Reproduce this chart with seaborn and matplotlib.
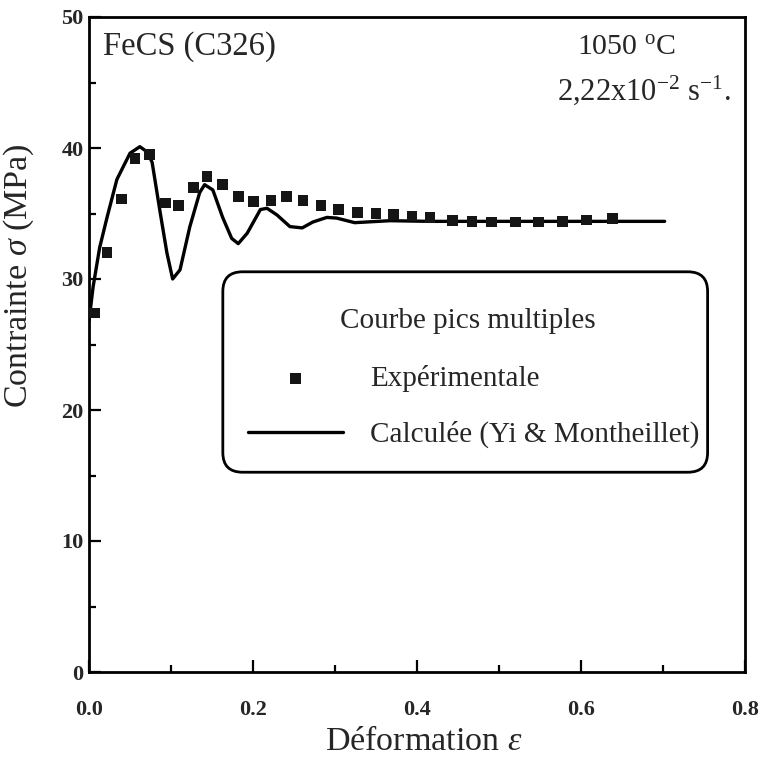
import numpy as np
import pandas as pd
import matplotlib
matplotlib.use("Agg")
import matplotlib.pyplot as plt
import seaborn as sns
from matplotlib.ticker import MultipleLocator
from matplotlib.patches import FancyBboxPatch

# experimental points (strain, stress MPa)
exp_strain = [0.007, 0.022, 0.040, 0.056, 0.074, 0.093, 0.109, 0.127, 0.144, 0.163,
              0.182, 0.201, 0.222, 0.241, 0.261, 0.283, 0.304, 0.327, 0.350, 0.371,
              0.394, 0.416, 0.443, 0.467, 0.491, 0.520, 0.548, 0.577, 0.607, 0.638]
exp_stress = [27.4, 32.0, 36.1, 39.2, 39.5, 35.8, 35.6, 37.0, 37.8, 37.2,
              36.3, 35.9, 36.0, 36.3, 36.0, 35.6, 35.3, 35.1, 35.0, 34.9,
              34.8, 34.7, 34.45, 34.4, 34.35, 34.35, 34.35, 34.4, 34.5, 34.6]

# calculated curve (Yi & Montheillet)
calc_strain = [0.0, 0.005, 0.013, 0.022, 0.034, 0.050, 0.062, 0.071, 0.077, 0.087,
               0.095, 0.102, 0.111, 0.123, 0.135, 0.141, 0.151, 0.163, 0.174, 0.182,
               0.193, 0.209, 0.217, 0.229, 0.245, 0.260, 0.273, 0.290, 0.302, 0.324,
               0.367, 0.416, 0.702]
calc_stress = [26.8, 29.4, 32.4, 34.7, 37.6, 39.6, 40.1, 39.7, 38.9, 35.0,
               32.0, 30.0, 30.7, 34.0, 36.6, 37.2, 36.8, 34.7, 33.1, 32.7,
               33.5, 35.3, 35.4, 34.9, 34.0, 33.9, 34.35, 34.7, 34.65, 34.3,
               34.45, 34.4, 34.4]

sns.set_theme(style="ticks")
plt.rcParams['font.family'] = ['Liberation Serif', 'DejaVu Serif']
plt.rcParams['mathtext.fontset'] = 'custom'
plt.rcParams['mathtext.rm'] = 'Liberation Serif'
plt.rcParams['mathtext.it'] = 'Liberation Serif:italic'
plt.rcParams['mathtext.bf'] = 'Liberation Serif:bold'

fig = plt.figure(figsize=(7.63, 7.60), dpi=100)
ax = fig.add_axes([89 / 763, 88 / 760, 656 / 763, 655 / 760])

exp_df = pd.DataFrame({"strain": exp_strain, "stress": exp_stress})
calc_df = pd.DataFrame({"strain": calc_strain, "stress": calc_stress})

sns.scatterplot(data=exp_df, x="strain", y="stress", marker="s", s=60,
                color="#151515", edgecolor="none", label="Expérimentale",
                ax=ax, zorder=3)
sns.lineplot(data=calc_df, x="strain", y="stress", color="black", lw=2.4,
             label="Calculée (Yi & Montheillet)", ax=ax, zorder=2, sort=False)

ax.set_xlim(0, 0.8)
ax.set_ylim(0, 50)
ax.xaxis.set_major_locator(MultipleLocator(0.2))
ax.xaxis.set_minor_locator(MultipleLocator(0.1))
ax.yaxis.set_major_locator(MultipleLocator(10))
ax.yaxis.set_minor_locator(MultipleLocator(5))
ax.set_xticks([0, 0.2, 0.4, 0.6, 0.8])
ax.set_xticklabels(["0.0", "0.2", "0.4", "0.6", "0.8"])

for s in ax.spines.values():
    s.set_linewidth(2.0)
    s.set_color("black")

ax.tick_params(axis="both", which="both", direction="in", top=False, right=False,
               color="black")
ax.tick_params(axis="both", which="major", length=8.5, width=1.6)
ax.tick_params(axis="both", which="minor", length=5, width=1.6)
ax.tick_params(axis="x", which="major", pad=20, labelsize=16)
ax.tick_params(axis="y", which="major", pad=4, labelsize=16)
for lab in ax.get_xticklabels() + ax.get_yticklabels():
    lab.set_fontweight("bold")

ax.set_xlabel(r"Déformation $\varepsilon$", fontsize=24.5)
ax.set_ylabel(r"Contrainte $\sigma$ (MPa)", fontsize=24.5)
ax.xaxis.set_label_coords(0.51, -0.083)
ax.yaxis.set_label_coords(-0.081, 0.605)

ax.text(0.021, 0.942, "FeCS (C326)", transform=ax.transAxes, fontsize=23.5,
        ha="left", va="baseline")
ax.text(0.744, 0.942, r"1050 $^{\mathrm{o}}$C", transform=ax.transAxes,
        fontsize=21.5, ha="left", va="baseline")
ax.text(0.713, 0.873, r"2,22x10$^{\mathrm{-2}}$ s$^{\mathrm{-1}}$.",
        transform=ax.transAxes, fontsize=22, ha="left", va="baseline")

# legend box (rounded frame) with title and entries
box = FancyBboxPatch((0.204, 0.305), 0.739, 0.306, transform=ax.transAxes,
                     boxstyle="round,pad=0,rounding_size=0.03",
                     facecolor="white", edgecolor="black", linewidth=2.0,
                     zorder=4)
ax.add_patch(box)
ax.text(0.577, 0.536, "Courbe pics multiples", transform=ax.transAxes,
        fontsize=21, ha="center", va="center", zorder=5)

handles, labels = ax.get_legend_handles_labels()
leg = ax.legend(handles, labels, loc="upper left",
                bbox_to_anchor=(0.242, 0.469), borderaxespad=0, fontsize=21,
                frameon=False, handlelength=3.25, handletextpad=0.95,
                labelspacing=1.0, borderpad=0, scatterpoints=1)
leg.set_zorder(6)

fig.savefig("out.png", dpi=100)
